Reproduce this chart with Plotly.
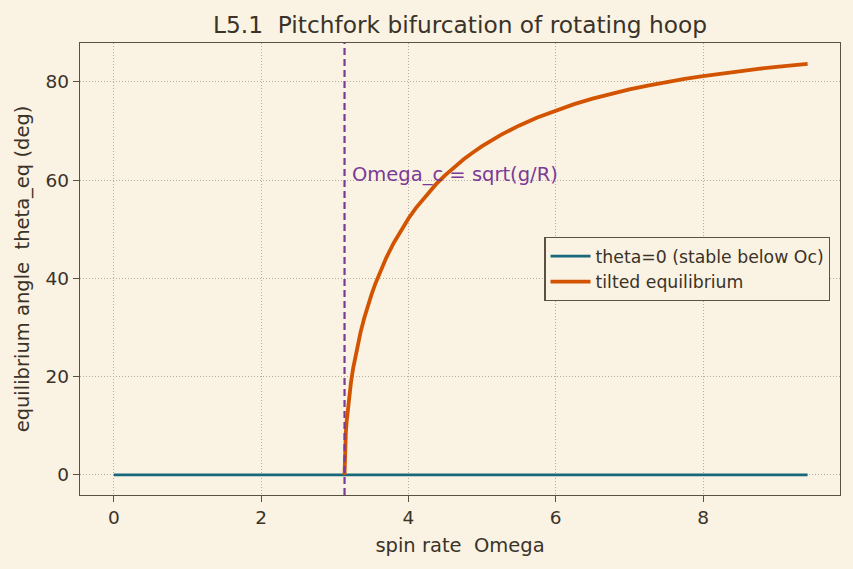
import plotly.graph_objects as go

# Data
omega_flat = [0.0, 9.42]
theta_flat = [0.0, 0.0]

omega_tilt = [3.132, 3.135, 3.14, 3.15, 3.16, 3.18, 3.2, 3.22, 3.25, 3.3, 3.35, 3.4, 3.45,
              3.5, 3.55, 3.6, 3.7, 3.8, 3.9, 4.0, 4.1, 4.25, 4.375, 4.5, 4.625, 4.75,
              4.875, 5.0, 5.25, 5.5, 5.75, 6.0, 6.25, 6.5, 6.75, 7.0, 7.25, 7.5, 7.75,
              8.0, 8.25, 8.5, 8.75, 9.0, 9.25, 9.42]
theta_tilt = [0.0, 3.49, 5.75, 8.64, 10.75, 14.04, 16.66, 18.90, 21.76, 25.74, 29.06,
              31.94, 34.50, 36.79, 38.88, 40.80, 44.23, 47.21, 49.84, 52.18, 54.30,
              57.10, 59.17, 61.02, 62.70, 64.23, 65.62, 66.90, 69.15, 71.08, 72.74,
              74.19, 75.45, 76.57, 77.57, 78.45, 79.24, 79.96, 80.60, 81.18, 81.71,
              82.20, 82.64, 83.04, 83.42, 83.65]

omega_c = 3.132
x_ticks = [0, 2, 4, 6, 8]
y_ticks = [0, 20, 40, 60, 80]

BG = "#faf2e3"
FRAME = "#5c5140"
TXT = "#3a3328"
GRID = "#b5ad9f"
TEAL = "#17687a"
ORANGE = "#d35400"
PURPLE = "#7b3a96"
FONT = "DejaVu Sans"

fig = go.Figure()
fig.add_trace(go.Scatter(x=omega_flat, y=theta_flat, mode="lines",
                         line=dict(color=TEAL, width=2.8),
                         name="theta=0 (stable below Oc)"))
fig.add_trace(go.Scatter(x=omega_tilt, y=theta_tilt, mode="lines",
                         line=dict(color=ORANGE, width=3.8),
                         name="tilted equilibrium"))

fig.add_shape(type="line", xref="x", yref="paper", x0=omega_c, x1=omega_c, y0=0, y1=1,
              line=dict(color=PURPLE, width=2.2, dash="7px,4px"))
fig.add_annotation(x=3.2, y=60, xref="x", yref="y", text="Omega_c = sqrt(g/R)",
                   showarrow=False, xanchor="left", yanchor="bottom", yshift=-8,
                   font=dict(family=FONT, size=19.5, color=PURPLE))

axis_common = dict(showline=True, linecolor=FRAME, linewidth=1.4, mirror=True,
                   ticks="outside", ticklen=6, tickcolor=FRAME, tickwidth=1.3,
                   showgrid=True, gridcolor=GRID, griddash="1px,2px", gridwidth=0.9,
                   zeroline=False, tickfont=dict(family=FONT, size=18.5, color=TXT))

fig.update_xaxes(range=[-0.46, 9.86], tickvals=x_ticks,
                 title=dict(text="spin rate  Omega", font=dict(family=FONT, size=19.5, color=TXT),
                            standoff=10),
                 **axis_common)
fig.update_yaxes(range=[-4.1, 87.9], tickvals=y_ticks,
                 title=dict(text="equilibrium angle  theta_eq (deg)",
                            font=dict(family=FONT, size=19.5, color=TXT), standoff=10),
                 **axis_common)

fig.update_layout(
    width=853, height=569,
    paper_bgcolor=BG, plot_bgcolor=BG,
    margin=dict(l=80, r=13, t=43, b=74),
    title=dict(text="L5.1  Pitchfork bifurcation of rotating hoop", x=0.5393, xanchor="center",
               y=0.956, yanchor="middle", font=dict(family=FONT, size=23.3, color=TXT)),
    legend=dict(x=0.987, xanchor="right", y=0.5, yanchor="middle",
                bgcolor=BG, bordercolor=FRAME, borderwidth=1.4,
                font=dict(family=FONT, size=17.3, color=TXT), tracegroupgap=2,
                itemwidth=40),
    showlegend=True,
)

fig.write_html("out.html")
